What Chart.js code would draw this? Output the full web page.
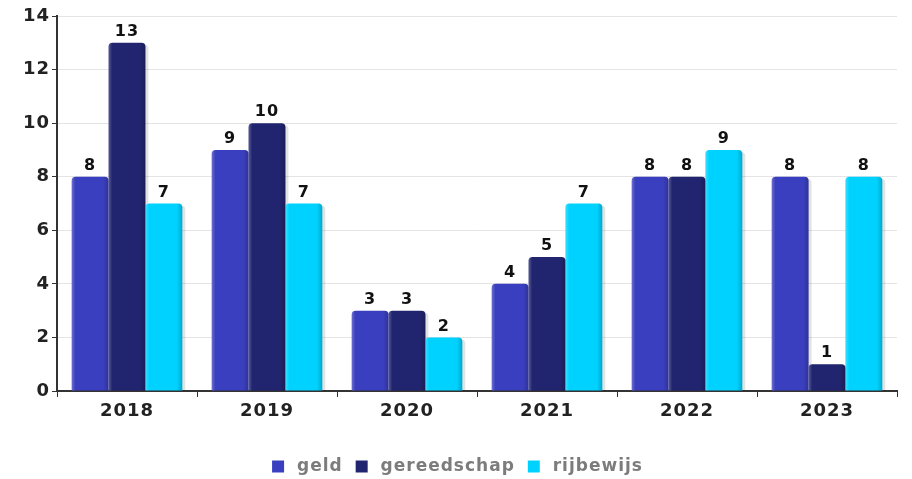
<!DOCTYPE html>
<html>
<head>
<meta charset="utf-8">
<script src="https://cdn.jsdelivr.net/npm/chart.js@4.4.1/dist/chart.umd.min.js"></script>
<style>
  html, body { margin: 0; padding: 0; background: #fff; }
  #wrap { width: 912px; height: 479px; }
</style>
</head>
<body>
<div id="wrap"><canvas id="chart" width="912" height="479"></canvas></div>
<script>
const jaren = ["2018", "2019", "2020", "2021", "2022", "2023"];
const geld = [8, 9, 3, 4, 8, 8];
const gereedschap = [13, 10, 3, 5, 8, 1];
const rijbewijs = [7, 7, 2, 7, 9, 8];
const yTicks = [0, 2, 4, 6, 8, 10, 12, 14];

const kleuren = ["#3a3fbf", "#21246e", "#00d2ff"];
const FONT = "'DejaVu Sans', Verdana, sans-serif";

// breder lettertype nabootsen
const spacing = {
  id: "spacing",
  beforeInit(chart) { chart.ctx.letterSpacing = "1px"; },
  beforeUpdate(chart) { chart.ctx.letterSpacing = "1px"; },
  beforeDraw(chart) { chart.ctx.letterSpacing = "1px"; },
  // legenda iets lager en meer naar rechts
  afterLayout(chart) {
    const lg = chart.legend;
    lg.top += 6;
    lg.bottom += 6;
    lg.left += 9;
    lg.right += 9;
  },
};

function topRect(ctx, x, y, w, h, r) {
  ctx.beginPath();
  ctx.moveTo(x, y + h);
  ctx.lineTo(x, y + r);
  ctx.quadraticCurveTo(x, y, x + r, y);
  ctx.lineTo(x + w - r, y);
  ctx.quadraticCurveTo(x + w, y, x + w, y + r);
  ctx.lineTo(x + w, y + h);
  ctx.closePath();
}

// schaduw rechts van elke staaf
const schaduw = {
  id: "schaduw",
  beforeDatasetsDraw(chart) {
    const ctx = chart.ctx;
    ctx.save();
    chart.data.datasets.forEach((ds, i) => {
      chart.getDatasetMeta(i).data.forEach(bar => {
        const l = bar.x - bar.width / 2;
        ctx.fillStyle = "rgba(0,0,0,0.11)";
        topRect(ctx, l + 3, bar.y + 2, bar.width, bar.base - bar.y - 2, 4);
        ctx.fill();
      });
    });
    ctx.restore();
  },
};

// lichte rand links, donkere rand rechts + waarde erboven
const glans = {
  id: "glans",
  afterDatasetsDraw(chart) {
    const ctx = chart.ctx;
    ctx.save();
    chart.data.datasets.forEach((ds, i) => {
      chart.getDatasetMeta(i).data.forEach((bar, j) => {
        const l = bar.x - bar.width / 2;
        const h = bar.base - bar.y;
        const g = ctx.createLinearGradient(l, 0, l + bar.width, 0);
        g.addColorStop(0, "rgba(255,255,255,0.25)");
        g.addColorStop(0.1, "rgba(255,255,255,0)");
        g.addColorStop(0.85, "rgba(0,0,0,0)");
        g.addColorStop(1, "rgba(0,0,0,0.2)");
        ctx.fillStyle = g;
        topRect(ctx, l, bar.y, bar.width, h, 4);
        ctx.fill();
        ctx.fillStyle = "#111";
        ctx.font = "bold 16px " + FONT;
        ctx.textAlign = "center";
        ctx.textBaseline = "bottom";
        ctx.fillText(String(ds.data[j]), bar.x, bar.y - 3);
      });
    });
    ctx.restore();
  },
};

new Chart(document.getElementById("chart"), {
  type: "bar",
  data: {
    labels: jaren,
    datasets: [
      { label: "geld", data: geld },
      { label: "gereedschap", data: gereedschap },
      { label: "rijbewijs", data: rijbewijs },
    ].map((d, i) => ({
      ...d,
      backgroundColor: kleuren[i],
      borderWidth: 0,
      borderRadius: { topLeft: 4, topRight: 4 },
      borderSkipped: "bottom",
      barPercentage: 1,
      categoryPercentage: 0.79,
    })),
  },
  options: {
    responsive: false,
    animation: false,
    layout: { padding: { top: 16, right: 15, left: 0, bottom: 0 } },
    plugins: {
      tooltip: { enabled: false },
      legend: {
        position: "bottom",
        labels: {
          boxWidth: 12,
          boxHeight: 12,
          padding: 13,
          color: "#7c7c7c",
          font: { family: FONT, size: 17, weight: "bold" },
          // wat meer ruimte tussen blokje en tekst
          generateLabels(chart) {
            return Chart.defaults.plugins.legend.labels.generateLabels(chart)
              .map(it => ({ ...it, text: "\u2009" + it.text }));
          },
        },
      },
    },
    scales: {
      x: {
        grid: { drawOnChartArea: false, drawTicks: true, tickLength: 6, color: "#333" },
        border: { color: "#333", width: 2 },
        ticks: { color: "#222", padding: 4, font: { family: FONT, size: 18, weight: "bold" } },
        afterFit: s => { s.height = 48; },
      },
      y: {
        min: 0,
        max: 14,
        afterBuildTicks: s => { s.ticks = yTicks.map(v => ({ value: v })); },
        grid: { color: "#e4e4e4", tickColor: "#333", tickLength: 5 },
        border: { color: "#333", width: 2 },
        ticks: { color: "#222", padding: 2, font: { family: FONT, size: 18, weight: "bold" } },
        afterFit: s => { s.width = 57; },
      },
    },
  },
  plugins: [spacing, schaduw, glans],
});
</script>
</body>
</html>
